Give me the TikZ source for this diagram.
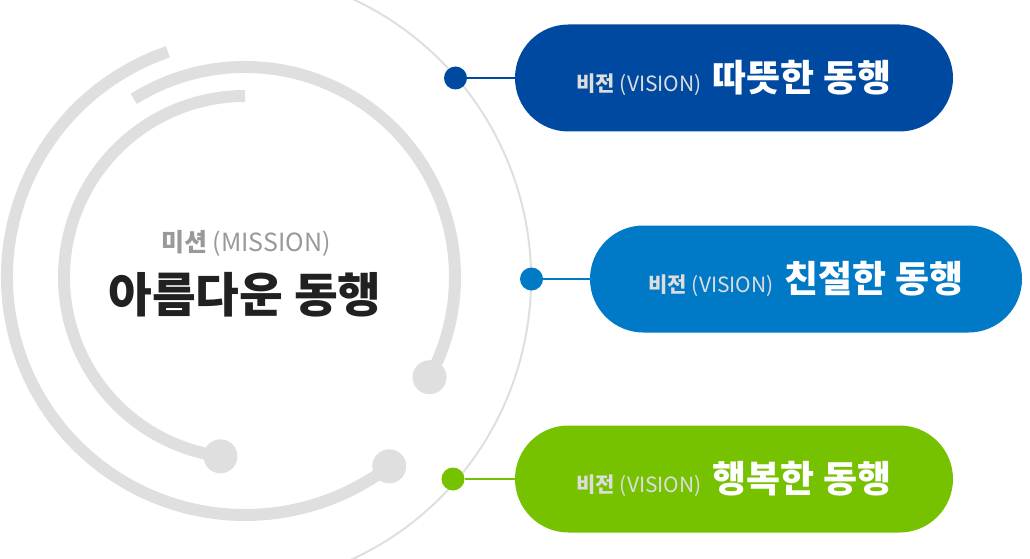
\documentclass[tikz,border=0pt]{standalone}
\usepackage{fontspec}
\setmainfont{Noto Sans CJK KR}
\usetikzlibrary{shapes.misc}

\definecolor{ringgray}{HTML}{DFDFDF}
\definecolor{visgray}{HTML}{DDDDDD}
\definecolor{warmblue}{HTML}{0049A0}
\definecolor{kindblue}{HTML}{0079C7}
\definecolor{happygreen}{HTML}{76C200}

\begin{document}
\begin{tikzpicture}[x=1pt, y=1pt,
  ring/.style = {ringgray, line width=12},
  knob/.style = {fill=ringgray},
  pill/.style = {rounded rectangle, minimum height=107, minimum width=438, inner sep=0, text=white},
  dot/.style = {circle, minimum size=23, inner sep=0},
  link/.style = {line width=2.5}]
\useasboundingbox (0,0) rectangle (1030,558);
\clip (0,0) rectangle (1030,558);

% thin outer ring
\draw[ringgray, line width=2] (222,279) ++(-66:309) arc[start angle=-66, end angle=66, radius=309];

% thick rings around the mission
\coordinate (c) at (245,281);
\draw[ring] (c) ++(108.9:238) arc[start angle=108.9, end angle=307.3, radius=238];
\fill[knob] (c) ++(307.3:238) circle[radius=17];
\draw[ring] (c) ++(122:210) arc[start angle=122, end angle=-28.5, radius=210];
\fill[knob] (c) ++(-28.5:210) circle[radius=17];
\draw[ring] (c) ++(90:181) arc[start angle=90, end angle=262.2, radius=181];
\fill[knob] (c) ++(262.2:181) circle[radius=17];

\node[text=gray!80] (mtag) at (246,315) {\fontsize{25}{30}\selectfont\textbf{미션} (MISSION)};
\node[text=black!87] (mission) at (245,263) {\fontsize{47.5}{56}\selectfont\bfseries 아름다운 동행};

% visions
\node[pill, fill=warmblue] (v1) at (734,480) {{\fontsize{21}{25}\selectfont\color{visgray}\textbf{비전} (VISION)}\hspace{11pt}{\fontsize{37}{44}\selectfont\bfseries 따뜻한 동행}};
\node[pill, fill=kindblue, minimum width=432] (v2) at (806,279) {{\fontsize{21}{25}\selectfont\color{visgray}\textbf{비전} (VISION)}\hspace{11pt}{\fontsize{37}{44}\selectfont\bfseries 친절한 동행}};
\node[pill, fill=happygreen] (v3) at (734,79) {{\fontsize{21}{25}\selectfont\color{visgray}\textbf{비전} (VISION)}\hspace{11pt}{\fontsize{37}{44}\selectfont\bfseries 행복한 동행}};

\node[dot, fill=warmblue] (d1) at (455.5,480) {};
\node[dot, fill=kindblue] (d2) at (531.5,279) {};
\node[dot, fill=happygreen] (d3) at (453,79) {};

\draw[link, warmblue] (d1) -- (v1);
\draw[link, kindblue] (d2) -- (v2);
\draw[link, happygreen] (d3) -- (v3);
\end{tikzpicture}
\end{document}
